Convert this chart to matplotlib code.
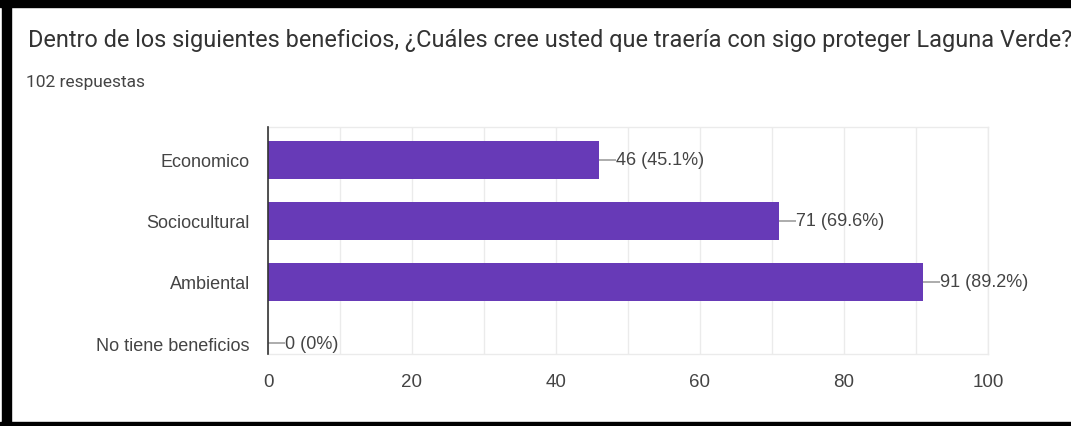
import matplotlib.pyplot as plt
from matplotlib.patches import Rectangle

# data
categories = ["Economico", "Sociocultural", "Ambiental", "No tiene beneficios"]
counts = [46, 71, 91, 0]
pct_labels = ["45.1%", "69.6%", "89.2%", "0%"]
x_ticks = [0, 20, 40, 60, 80, 100]

title = "Dentro de los siguientes beneficios, ¿Cuáles cree usted que traería con sigo proteger Laguna Verde?"
subtitle = "102 respuestas"

W, H = 1071, 427
fig = plt.figure(figsize=(W / 100, H / 100), dpi=100)
fig.patch.set_facecolor("white")

# plot area in pixels: x 268..988, y 128..355
ax = fig.add_axes([268 / W, 1 - 355 / H, (988 - 268) / W, (355 - 128) / H])

ypos = list(range(len(categories)))
ax.barh(ypos, counts, height=0.62, color="#673ab7", zorder=3)

# value labels with short leader lines
for y, v, p in zip(ypos, counts, pct_labels):
    ax.plot([v, v + 2.3], [y, y], color="#9e9e9e", lw=1.2, zorder=4,
            solid_capstyle="butt")
    ax.text(v + 2.4, y, f"{v} ({p})", va="center", ha="left",
            fontsize=13, color="#444444", family="Liberation Sans")

ax.set_xlim(0, 100)
ax.set_ylim(3.18, -0.54)
ax.set_yticks(ypos)
ax.set_yticklabels(categories, fontsize=13, color="#444444", family="Liberation Sans")
ax.set_xticks(x_ticks)
ax.set_xticklabels([str(t) for t in x_ticks], fontsize=13.5, color="#444444",
                   family="Liberation Sans")
ax.set_xticks(range(0, 101, 10), minor=True)
ax.tick_params(axis="both", length=0, which="both")
ax.tick_params(axis="y", pad=13)
ax.tick_params(axis="x", pad=14)
ax.grid(axis="x", which="both", color="#ebebeb", lw=1, zorder=0)

for side in ["top", "bottom", "right"]:
    ax.spines[side].set_color("#ebebeb")
    ax.spines[side].set_linewidth(1)
ax.spines["left"].set_color("#333333")
ax.spines["left"].set_linewidth(1.2)
ax.spines["left"].set_zorder(5)

fig.text(28 / W, 1 - 47 / H, title, fontsize=16.9, color="#333333",
         family="Roboto", va="baseline", ha="left")
fig.text(26 / W, 1 - 87 / H, subtitle, fontsize=12.5, color="#444444",
         family="Roboto", va="baseline", ha="left")

# black frame around the screenshot (top, left, bottom)
fig.patches.append(Rectangle((0, 1 - 8 / H), 1, 8 / H, transform=fig.transFigure,
                             color="black", zorder=10))
fig.patches.append(Rectangle((2 / W, 0), 9 / W, 1, transform=fig.transFigure,
                             color="black", zorder=10))
fig.patches.append(Rectangle((0, 0), 1, 4 / H, transform=fig.transFigure,
                             color="black", zorder=10))

fig.savefig("out.png", dpi=100)
